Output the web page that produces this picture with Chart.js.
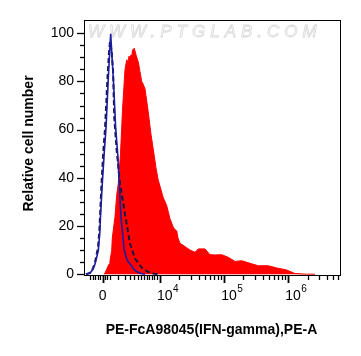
<!DOCTYPE html>
<html><head><meta charset="utf-8">
<script src="https://cdn.jsdelivr.net/npm/chart.js@4.4.1/dist/chart.umd.min.js"></script>
<style>html,body{margin:0;padding:0;background:#fff;}canvas{display:block;}</style>
</head><body>
<canvas id="c" width="361" height="356"></canvas>
<script>
// x values are in display units of the biexponential axis (1 unit = 1 decade in the log region)
const redU = [3.127,3.143,3.205,3.220,3.247,3.256,3.298,3.325,3.350,3.384,3.415,3.454,3.481,3.500,3.517,3.535,3.548,3.560,3.571,3.599,3.626,3.662,3.688,3.715,3.735,3.766,3.813,3.860,3.911,3.938,3.973,4.016,4.047,4.104,4.156,4.207,4.234,4.260,4.281,4.312,4.359,4.416,4.468,4.546,4.597,4.701,4.779,4.857,4.962,5.065,5.169,5.274,5.403,5.532,5.688,5.819,5.975,6.104,6.287,6.416];
const redCount = [0,0.5,4.2,5.6,9.8,15,23.7,33,37.6,50,68,84.8,89,88,90.5,90,91,90.5,93,93.8,91,88,84,80,79,77,68,58,49,44,39,35,32,28.5,23,19.5,18.5,18,15,12.8,12,11,10,9.1,10.5,10.5,8.1,8,8.1,7,5.3,5.6,4.5,3.5,3.5,2.6,1.75,0.3,0,0];

const blueU = [2.846,2.909,2.955,2.987,3.038,3.061,3.072,3.100,3.132,3.158,3.194,3.213,3.231,3.252,3.272,3.309,3.340,3.365,3.392,3.443,3.485,3.532,3.610,3.688,3.766];
const blueCount = [0,0.5,2,4.2,9.8,17,24,37.6,51,60.6,81.5,91,99.8,90,81.5,60.6,50,37.6,23.7,9.8,6,4.2,1.5,0.4,0];

const dashU = [2.846,2.909,2.955,2.987,3.033,3.054,3.065,3.088,3.116,3.143,3.181,3.205,3.220,3.244,3.267,3.287,3.322,3.376,3.454,3.532,3.610,3.715,3.813,3.906,4.0];
const dashCount = [0,0.5,2.5,5,11,18,24,37.6,51,60.6,81.5,92,96.5,93,85,65,52,37.6,25,12.7,6.5,2.7,1,0.2,0];

// axis ticks
const xMajorPos = [3.107, 4, 5, 6];
const xMajorBase = ['0', '10', '10', '10'];
const xMajorExp = ['', '4', '5', '6'];
const xMinorNearZero = [2.909,2.948,2.987,3.026,3.065,3.143,3.181,3.220,3.350,3.454,3.532,3.599,3.652,3.704,3.755,3.793,3.836,3.875,3.914,3.953];
const yMajorLabels = [0, 20, 40, 60, 80, 100];
const yMinorStep = 5;

const xTitle = 'PE-FcA98045(IFN-gamma),PE-A';
const yTitle = 'Relative cell number';
const watermark = 'WWW.PTGLAB.COM';

const X_MIN = 2.815, X_MAX = 6.822, Y_MIN = -0.75, Y_MAX = 105.5;

const pts = (u, c) => u.map((x, i) => ({x: x, y: c[i]}));

const flowAxes = {
  id: 'flowAxes',
  beforeDatasetsDraw(chart) {
    const ctx = chart.ctx, a = chart.chartArea;
    ctx.save();
    ctx.font = 'italic 17px "Liberation Sans", Arial, sans-serif';
    try { ctx.letterSpacing = '5px'; } catch (e) {}
    ctx.strokeStyle = '#d9d9d9';
    ctx.lineWidth = 0.8;
    ctx.textAlign = 'left';
    ctx.textBaseline = 'alphabetic';
    ctx.strokeText(watermark, a.left + 4, a.top + 17);
    ctx.restore();
  },
  afterDraw(chart) {
    const ctx = chart.ctx, a = chart.chartArea, xs = chart.scales.x, ys = chart.scales.y;
    ctx.save();
    ctx.strokeStyle = '#000';
    ctx.lineWidth = 1;
    ctx.strokeRect(a.left + 0.5, a.top + 0.5, a.right - a.left - 1, a.bottom - a.top - 1);
    // y ticks
    ctx.lineWidth = 1.3;
    for (let v = 0; v <= 100; v += yMinorStep) {
      const py = Math.round(ys.getPixelForValue(v)) + 0.5;
      const len = yMajorLabels.includes(v) ? 7 : 4;
      ctx.beginPath(); ctx.moveTo(a.left - len, py); ctx.lineTo(a.left, py); ctx.stroke();
    }
    // x ticks
    const minors = xMinorNearZero.slice();
    [4, 5, 6].forEach(d => { for (let k = 2; k <= 9; k++) { const u = d + Math.log10(k); if (u < X_MAX) minors.push(u); } });
    minors.forEach(u => {
      const px = Math.round(xs.getPixelForValue(u)) + 0.5;
      ctx.beginPath(); ctx.moveTo(px, a.bottom); ctx.lineTo(px, a.bottom + 4); ctx.stroke();
    });
    ctx.lineWidth = 1.8;
    xMajorPos.forEach(u => {
      const px = Math.round(xs.getPixelForValue(u)) + 0.5;
      ctx.beginPath(); ctx.moveTo(px, a.bottom); ctx.lineTo(px, a.bottom + 7); ctx.stroke();
    });
    // x labels
    ctx.fillStyle = '#000';
    ctx.textBaseline = 'alphabetic';
    xMajorPos.forEach((u, i) => {
      const px = xs.getPixelForValue(u);
      ctx.font = '14px "Liberation Sans", Arial, sans-serif';
      if (!xMajorExp[i]) {
        ctx.textAlign = 'center';
        ctx.fillText(xMajorBase[i], px, 300);
      } else {
        ctx.textAlign = 'left';
        const bx = px - 3;
        ctx.fillText(xMajorBase[i], bx, 300);
        const w = ctx.measureText(xMajorBase[i]).width;
        ctx.font = '10px "Liberation Sans", Arial, sans-serif';
        ctx.fillText(xMajorExp[i], bx + w + 0.5, 292);
      }
    });
    // titles
    ctx.font = 'bold 14px "Liberation Sans", Arial, sans-serif';
    ctx.textAlign = 'center';
    ctx.fillText(xTitle, 211.5, 334);
    ctx.translate(33, 143.5);
    ctx.rotate(-Math.PI / 2);
    ctx.fillText(yTitle, 0, 0);
    ctx.restore();
  }
};

new Chart(document.getElementById('c'), {
  type: 'line',
  data: {
    datasets: [
      { label: 'sample', data: pts(redU, redCount), borderColor: '#ff0000', backgroundColor: '#ff0000', borderWidth: 1, fill: 'origin', pointRadius: 0, order: 3 },
      { label: 'control dashed', data: pts(dashU, dashCount), borderColor: '#16163e', borderWidth: 2, borderDash: [5, 3], fill: false, pointRadius: 0, order: 2 },
      { label: 'control', data: pts(blueU, blueCount), borderColor: '#1c1ca0', borderWidth: 1.6, fill: false, pointRadius: 0, order: 1 }
    ]
  },
  options: {
    responsive: false,
    animation: false,
    devicePixelRatio: 1,
    layout: { padding: { left: 0, top: 20, right: 20, bottom: 0 } },
    plugins: { legend: { display: false }, tooltip: { enabled: false } },
    scales: {
      x: {
        type: 'linear', min: X_MIN, max: X_MAX,
        grid: { display: false, drawTicks: false },
        border: { display: false },
        ticks: { display: false },
        afterFit: s => { s.height = 80; }
      },
      y: {
        type: 'linear', min: Y_MIN, max: Y_MAX,
        grid: { display: false, drawTicks: false },
        border: { display: false },
        afterBuildTicks: s => { s.ticks = yMajorLabels.map(v => ({ value: v })); },
        ticks: { color: '#000', padding: 10, font: { family: '"Liberation Sans", Arial, sans-serif', size: 14 } },
        afterFit: s => { s.width = 84; }
      }
    }
  },
  plugins: [flowAxes]
});
</script>
</body></html>
